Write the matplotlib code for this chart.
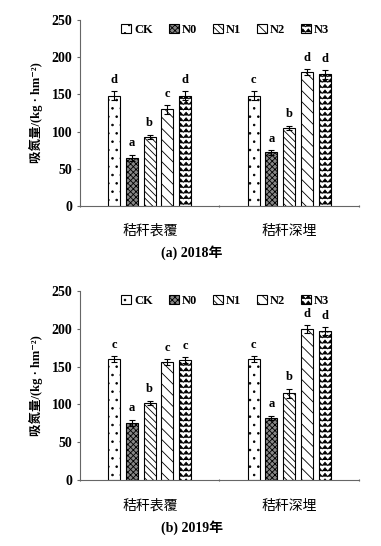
import numpy as np
import matplotlib.pyplot as plt
from matplotlib import hatch as mhatch
from matplotlib.path import Path

plt.rcParams['font.family'] = ['Liberation Serif', 'DejaVu Sans', 'Noto Sans CJK SC']
plt.rcParams['hatch.linewidth'] = 0.6

groups = ['秸秆表覆', '秸秆深埋']
series = ['CK', 'N0', 'N1', 'N2', 'N3']

vals_2018 = [[148, 65, 93, 130, 148], [148, 72, 105, 180, 177]]
err_2018 = [[6, 4, 3, 6, 6], [6, 3, 3, 4, 6]]
let_2018 = [['d', 'a', 'b', 'c', 'd'], ['c', 'a', 'b', 'd', 'd']]

vals_2019 = [[160, 76, 102, 156, 159], [160, 82, 115, 200, 197]]
err_2019 = [[4, 4, 3, 4, 4], [4, 3, 6, 5, 5]]
let_2019 = [['c', 'a', 'b', 'c', 'c'], ['c', 'a', 'b', 'd', 'd']]

captions = ['(a) 2018年', '(b) 2019年']


# zigzag hatch for N3 (rows of chevrons)
class ZigZag(mhatch.HatchPatternBase):
    def __init__(self, hatch, density):
        self.num_rows = int(hatch.count('z') * density)
        self.num_teeth = self.num_rows
        self.per_row = 2 * self.num_teeth + 1
        self.num_vertices = self.num_rows * self.per_row

    def set_vertices_and_codes(self, vertices, codes):
        rows = np.linspace(0, 1, self.num_rows, endpoint=False) + 0.5 / self.num_rows
        amp = 0.3 / self.num_rows
        xs = np.linspace(0, 1, self.per_row)
        ys_off = np.where(np.arange(self.per_row) % 2 == 0, -amp, amp)
        for r, y in enumerate(rows):
            s = slice(r * self.per_row, (r + 1) * self.per_row)
            vertices[s, 0] = xs
            vertices[s, 1] = y + ys_off
            codes[s] = Path.LINETO
            codes[r * self.per_row] = Path.MOVETO


mhatch._hatch_types.append(ZigZag)

hatches = ['..', 'xxxxxx', '\\\\\\\\\\', '\\\\\\', 'zzz']
faces = ['white', '#888888', 'white', 'white', 'white']

fig = plt.figure(figsize=(3.81, 5.46), dpi=100)
ax_a = fig.add_axes([0.21, 0.6227, 0.732, 0.3407])
ax_b = fig.add_axes([0.21, 0.1209, 0.732, 0.346])

step = 0.127
width = 0.086


def draw(ax, vals, errs, lets, caption):
    vals = np.array(vals)
    errs = np.array(errs)
    for j in range(len(series)):
        x = np.arange(len(groups)) + (j - 2) * step
        ax.bar(x, vals[:, j], width, yerr=errs[:, j], color=faces[j],
               edgecolor='black', linewidth=0.8, hatch=hatches[j],
               error_kw=dict(elinewidth=0.8, capsize=2.5, capthick=0.8),
               label=series[j])
        for i in range(len(groups)):
            ax.text(x[i], vals[i, j] + errs[i, j] + 7, lets[i][j],
                    ha='center', va='bottom', fontsize=9, fontweight='bold')
    ax.set_xlim(-0.5, 1.5)
    ax.set_ylim(0, 250)
    ax.set_yticks([0, 50, 100, 150, 200, 250])
    ax.set_xticks([-0.5, 0.5, 1.5])
    ax.set_xticklabels([])
    ax.tick_params(axis='x', length=2, direction='inout', color='#666666')
    ax.tick_params(axis='y', length=2, labelsize=10, color='#666666')
    for lab in ax.get_yticklabels():
        lab.set_fontweight('bold')
    for s in ['top', 'right']:
        ax.spines[s].set_visible(False)
    for s in ['left', 'bottom']:
        ax.spines[s].set_color('#666666')
    for i, g in enumerate(groups):
        ax.text(i, -0.135, g, transform=ax.get_xaxis_transform(),
                ha='center', va='center', fontsize=10,
                family=['Noto Sans CJK SC'])
    ax.text(0.4, -0.25, caption, transform=ax.transAxes,
            ha='center', va='center', fontsize=10, fontweight='bold')
    ax.set_ylabel('吸氮量/(kg · hm⁻²)', fontsize=9, fontweight='bold',
                  labelpad=6)
    ax.legend(ncol=5, loc='upper center', bbox_to_anchor=(0.52, 1.04),
              frameon=False, handlelength=0.8, handleheight=0.8,
              handletextpad=0.2, columnspacing=1.3,
              prop={'weight': 'bold', 'size': 9})


draw(ax_a, vals_2018, err_2018, let_2018, captions[0])
draw(ax_b, vals_2019, err_2019, let_2019, captions[1])

fig.savefig('out.png', dpi=100)
